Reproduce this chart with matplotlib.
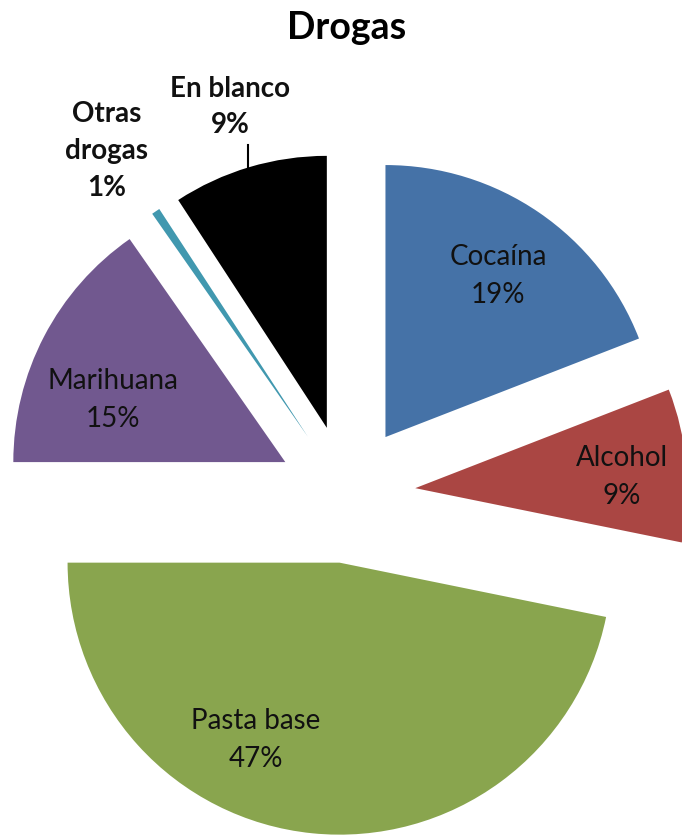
import math
import matplotlib
matplotlib.use("Agg")
import matplotlib.pyplot as plt

categories = ["Cocaína", "Alcohol", "Pasta base", "Marihuana", "Otras drogas", "En blanco"]
label_lines = ["Cocaína", "Alcohol", "Pasta base", "Marihuana", "Otras\ndrogas", "En blanco"]
values = [19.1, 9.1, 46.8, 15.3, 0.5, 9.2]
colors = ["#4572A7", "#AA4643", "#89A54E", "#71588F", "#4198AF", "#000000"]
chart_title = "Drogas"

W, H = 682, 835
R = 272.0              # pie radius (px)
CX, CY = 346.5, 494.0  # pie centre (px, from top-left)
EXPLODE = 69.0 / R

plt.rcParams['font.family'] = ['Lato', 'DejaVu Sans']

fig = plt.figure(figsize=(W / 100, H / 100), dpi=100)
ax = fig.add_axes([0, 0, 1, 1])
wedges, _ = ax.pie(values, colors=colors, startangle=90, counterclock=False,
                   explode=[EXPLODE] * len(values), radius=1, center=(0, 0),
                   wedgeprops=dict(linewidth=0))
ax.set_xlim(-CX / R, (W - CX) / R)
ax.set_ylim(-(H - CY) / R, CY / R)
ax.set_aspect('auto')
ax.axis('off')


def P(x, y):
    return ((x - CX) / R, (CY - y) / R)


pct = [f"{int(v + 0.5)}%" for v in values]

inside_pos = {"Cocaína": (498, 276), "Alcohol": (622, 477),
              "Pasta base": (256, 740), "Marihuana": (113, 400)}
outside_pos = {"Otras drogas": (107, 151), "En blanco": (230, 107)}

for cat, lab, p in zip(categories, label_lines, pct):
    if cat in inside_pos:
        x, y = P(*inside_pos[cat])
        ax.text(x, y, f"{lab}\n{p}", ha='center', va='center', fontsize=20,
                color='#111111', linespacing=1.6)
    else:
        x, y = P(*outside_pos[cat])
        ax.text(x, y, f"{lab}\n{p}", ha='center', va='center', fontsize=20,
                fontweight='bold', color='#111111', linespacing=1.5)

# leader line for "En blanco"
w = wedges[categories.index("En blanco")]
wcx, wcy = w.center
lx, ly_top = P(248, 145)
ly_arc = wcy + math.sqrt(w.r ** 2 - (lx - wcx) ** 2)
ax.plot([lx, lx], [ly_top, ly_arc], color='black', lw=1.5)

tx, ty = P(347, 28)
ax.text(tx, ty, chart_title, ha='center', va='center', fontsize=27, fontweight='bold')

fig.savefig("out.png", dpi=100)
